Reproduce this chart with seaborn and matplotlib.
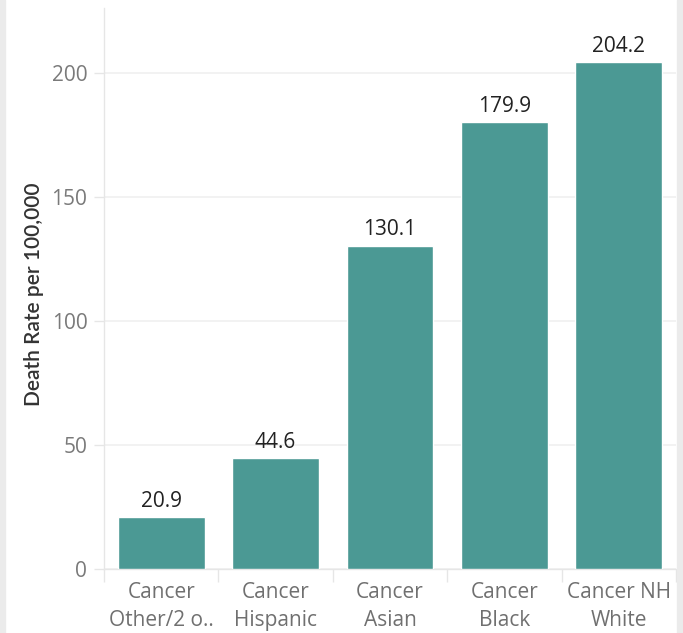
import matplotlib
matplotlib.use("Agg")
import matplotlib.pyplot as plt
import matplotlib.patches as mpatches
import seaborn as sns
import pandas as pd

categories = ["Cancer\nOther/2 o..", "Cancer\nHispanic", "Cancer\nAsian",
              "Cancer\nBlack", "Cancer NH\nWhite"]
values = [20.9, 44.6, 130.1, 179.9, 204.2]
yticks = [0, 50, 100, 150, 200]
ylabel = "Death Rate per 100,000"

BAR = "#4b9994"
GRID = "#f0f0f0"
AXIS = "#e6e6e6"


def main():
    sns.set_theme(style="white")
    plt.rcParams['font.family'] = ['Open Sans', 'DejaVu Sans']

    df = pd.DataFrame({"cat": categories, "val": values})

    fig = plt.figure(figsize=(6.83, 6.33), dpi=100)
    # grey side strips like the dashboard frame
    fig.patches.append(mpatches.Rectangle((0, 0), 5 / 683, 1, transform=fig.transFigure,
                                          color="#ebebeb", zorder=0))
    fig.patches.append(mpatches.Rectangle((677 / 683, 0), 6 / 683, 1, transform=fig.transFigure,
                                          color="#ebebeb", zorder=0))
    ax = fig.add_axes([104 / 683, (633 - 569) / 633, (676 - 104) / 683, (569 - 8) / 633])

    sns.barplot(data=df, x="cat", y="val", color=BAR, saturation=1, width=0.76, ax=ax, zorder=3)

    ax.set_xlim(-0.5, 4.5)
    ax.set_ylim(0, 226)
    ax.set_yticks(yticks)
    ax.set_yticklabels([str(t) for t in yticks], color="#7a7a7a", fontsize=15)
    ax.yaxis.grid(True, color=GRID, linewidth=1.2, zorder=0)
    ax.tick_params(axis="y", length=7, color=AXIS, width=1, pad=5, left=True)

    ax.set_xticks(range(len(categories)))
    ax.set_xticklabels(categories, color="#707070", fontsize=15, linespacing=1.45)
    ax.tick_params(axis="x", which="major", length=0, pad=9)
    ax.set_xticks([i - 0.5 for i in range(len(categories) + 1)], minor=True)
    ax.tick_params(axis="x", which="minor", length=9, color=AXIS, width=1, bottom=True)

    for s in ["top", "right"]:
        ax.spines[s].set_visible(False)
    ax.spines["left"].set_color(AXIS)
    ax.spines["bottom"].set_color(AXIS)
    ax.spines["left"].set_linewidth(1)
    ax.spines["bottom"].set_linewidth(1)

    for i, v in enumerate(values):
        ax.annotate(f"{v:.1f}", (i, v), xytext=(0, 4), textcoords="offset points",
                    ha="center", va="bottom", fontsize=15, color="#222222")

    ax.set_xlabel("")
    ax.set_ylabel(ylabel, fontsize=15, color="#333333", fontweight="semibold",
                  family=['Lato', 'DejaVu Sans'])
    ax.yaxis.set_label_coords(-0.105, 0.49)

    fig.savefig("out.png", dpi=100)


if __name__ == "__main__":
    main()
